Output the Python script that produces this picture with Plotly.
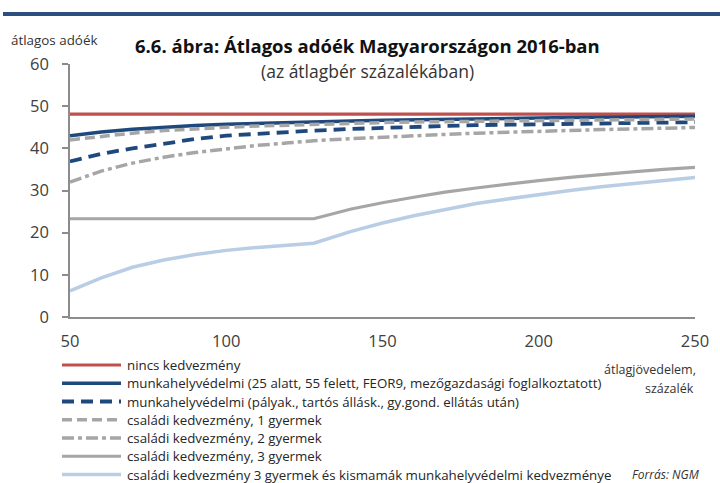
import plotly.graph_objects as go

# Average income, % of the average wage
income = [50, 60, 70, 80, 90, 100, 110, 120, 128, 140, 150, 160, 170, 180, 190, 200, 210, 220, 230, 240, 250]

# Average tax wedge (% of labour cost) by allowance type
no_allowance = [48.1] * len(income)
job_protection = [43.0, 43.9, 44.5, 45.0, 45.4, 45.7, 45.95, 46.15, 46.3, 46.5, 46.65,
                  46.8, 46.9, 47.0, 47.1, 47.2, 47.3, 47.35, 47.45, 47.5, 47.6]
job_protection_entrant = [36.9, 38.7, 40.0, 41.2, 42.2, 43.0, 43.5, 43.9, 44.2, 44.6, 44.9,
                          45.1, 45.3, 45.5, 45.6, 45.7, 45.8, 45.9, 46.0, 46.1, 46.2]
family_1 = [42.0, 42.9, 43.6, 44.2, 44.65, 45.0, 45.3, 45.55, 45.75, 45.95, 46.1,
            46.25, 46.35, 46.45, 46.55, 46.65, 46.7, 46.8, 46.85, 46.9, 46.95]
family_2 = [32.0, 34.6, 36.5, 37.9, 39.0, 39.9, 40.7, 41.3, 41.8, 42.3, 42.7,
            43.0, 43.3, 43.6, 43.85, 44.05, 44.25, 44.45, 44.6, 44.8, 44.95]
family_3 = [23.3, 23.3, 23.3, 23.3, 23.3, 23.3, 23.3, 23.3, 23.3, 25.6, 27.1,
            28.4, 29.6, 30.6, 31.5, 32.35, 33.1, 33.8, 34.4, 35.0, 35.5]
family_3_mothers = [6.2, 9.3, 11.8, 13.5, 14.8, 15.8, 16.5, 17.0, 17.5, 20.3, 22.3,
                    24.0, 25.5, 26.9, 28.0, 29.1, 30.0, 30.9, 31.7, 32.4, 33.1]

x_ticks = [50, 100, 150, 200, 250]
y_ticks = [0, 10, 20, 30, 40, 50, 60]

RED = "#C0504D"
NAVY = "#1F497D"
GRAY = "#A6A6A6"
LIGHT_BLUE = "#B9CDE5"

series = [
    ("nincs kedvezmény", no_allowance, RED, "solid", 3.2),
    ("munkahelyvédelmi (25 alatt, 55 felett, FEOR9, mezőgazdasági foglalkoztatott)",
     job_protection, NAVY, "solid", 3.5),
    ("munkahelyvédelmi (pályak., tartós állásk., gy.gond. ellátás után)",
     job_protection_entrant, NAVY, "12px,7px", 3.8),
    ("családi kedvezmény, 1 gyermek", family_1, GRAY, "10px,5px", 3.5),
    ("családi kedvezmény, 2 gyermek", family_2, GRAY, "12px,4px,4px,4px", 3.5),
    ("családi kedvezmény, 3 gyermek", family_3, GRAY, "solid", 3.2),
    ("családi kedvezmény 3 gyermek és kismamák munkahelyvédelmi kedvezménye",
     family_3_mothers, LIGHT_BLUE, "solid", 3.5),
]

fig = go.Figure()
for name, vals, color, dash, width in series:
    fig.add_trace(go.Scatter(
        x=income, y=vals, name=name, mode="lines",
        line=dict(color=color, dash=dash, width=width),
        showlegend=False,
    ))

FONT = "Open Sans"
L, R, T, B = 70, 25, 64, 166
W, H = 720, 483
pw, ph = W - L - R, H - T - B


def px(xp):
    return (xp - L) / pw


def py(yp):
    return (H - B - yp) / ph


# Legend below the chart: key line + label per series
LEG_TOP, LEG_STEP = 365, 18.25
legend_shapes, legend_labels = [], []
for i, (name, _vals, color, dash, width) in enumerate(series):
    yrow = py(LEG_TOP + i * LEG_STEP)
    legend_shapes.append(dict(
        type="line", xref="paper", yref="paper",
        x0=px(62), x1=px(121), y0=yrow, y1=yrow,
        line=dict(color=color, dash=dash, width=width),
    ))
    legend_labels.append(dict(
        text=name, xref="paper", yref="paper", x=px(125), y=yrow,
        xanchor="left", yanchor="middle", showarrow=False,
        font=dict(family=FONT, size=13.3, color="#262626"),
    ))

fig.update_layout(
    width=W, height=H,
    margin=dict(l=L, r=R, t=T, b=B, autoexpand=False),
    paper_bgcolor="white", plot_bgcolor="white",
    font=dict(family=FONT, color="#404040"),
    showlegend=False,
    xaxis=dict(
        range=[50, 250], tickvals=x_ticks, ticks="", showgrid=False, zeroline=False,
        showline=True, linecolor="#8C8C8C", linewidth=1.5,
        tickfont=dict(size=16.5, color="#404040"), ticklabelstandoff=8,
    ),
    yaxis=dict(
        range=[0, 60], tickvals=y_ticks, ticks="outside", ticklen=6, tickcolor="#8C8C8C",
        tickwidth=1.5, showgrid=False, zeroline=False,
        showline=True, linecolor="#8C8C8C", linewidth=1.5,
        tickfont=dict(size=16.5, color="#404040"), ticklabelstandoff=10,
    ),
    shapes=[
        dict(type="line", xref="paper", yref="paper",
             x0=px(3), x1=px(720), y0=py(14), y1=py(14),
             line=dict(color="#2B4F7E", width=4)),
    ] + legend_shapes,
    annotations=[
        dict(text="<b>6.6. ábra: Átlagos adóék Magyarországon 2016-ban</b>",
             xref="paper", yref="paper", x=px(367), y=py(45),
             xanchor="center", yanchor="middle", showarrow=False,
             font=dict(family=FONT, size=18.5, color="#111111")),
        dict(text="(az átlagbér százalékában)",
             xref="paper", yref="paper", x=px(367), y=py(71),
             xanchor="center", yanchor="middle", showarrow=False,
             font=dict(family=FONT, size=17.5, color="#333333")),
        dict(text="átlagos adóék",
             xref="paper", yref="paper", x=px(9), y=py(40),
             xanchor="left", yanchor="middle", showarrow=False,
             font=dict(family=FONT, size=13.4, color="#333333")),
        dict(text="átlagjövedelem,",
             xref="paper", yref="paper", x=px(698), y=py(369),
             xanchor="right", yanchor="middle", showarrow=False,
             font=dict(family=FONT, size=12.5, color="#333333")),
        dict(text="százalék",
             xref="paper", yref="paper", x=px(696), y=py(388),
             xanchor="right", yanchor="middle", showarrow=False,
             font=dict(family=FONT, size=12.5, color="#333333")),
        dict(text="<i>Forrás: NGM</i>",
             xref="paper", yref="paper", x=px(702), y=py(474),
             xanchor="right", yanchor="middle", showarrow=False,
             font=dict(family=FONT, size=12, color="#333333")),
    ] + legend_labels,
)

fig.write_html("out.html")
